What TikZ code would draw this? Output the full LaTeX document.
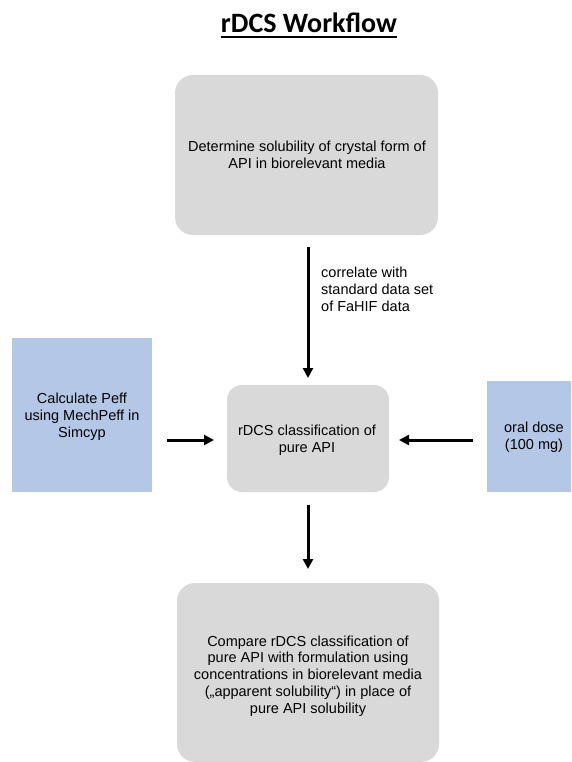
\documentclass[tikz,border=0pt]{standalone}
\usepackage{fontspec}
\setmainfont{Liberation Sans}
\newfontfamily\titlefont{Carlito}
\usetikzlibrary{arrows.meta}
\definecolor{boxgray}{HTML}{D9D9D9}
\definecolor{boxblue}{HTML}{B4C7E7}
\tikzset{
  graybox/.style={fill=boxgray, draw=none, rounded corners=18pt},
  bluebox/.style={fill=boxblue, draw=none},
  txt/.style={align=center, font=\fontsize{14.5}{16.8}\selectfont, inner sep=0pt},
  flow/.style={line width=3pt, -{Triangle[length=10pt,width=10pt]}},
}
\begin{document}
\begin{tikzpicture}[x=1pt,y=-1pt]
\useasboundingbox (0,0) rectangle (571,762);
\clip (0,0) rectangle (571,762);
% title
\node[inner sep=0pt, font=\titlefont\bfseries\fontsize{28}{30}\selectfont, anchor=base] (title) at (309,33) {rDCS Workflow};
\draw[line width=2pt] (title.base west) ++(0,4) coordinate (ul1) -- (title.base east |- ul1);
% boxes
\path[graybox] (175,75) rectangle (438,235);
\node[txt] (top) at (307,155) {Determine solubility of crystal form of\\API in biorelevant media};
\coordinate (topb) at (308,247);
\path[graybox, rounded corners=15pt] (227,385) rectangle (389,492);
\node[txt] (mid) at (307,440) {rDCS classification of\\pure API};
\coordinate (midt) at (308,378);
\coordinate (midl) at (214,440);
\coordinate (midr) at (399,440);
\coordinate (midb) at (308,505);
\path[bluebox] (12,338) rectangle (152,492);
\node[txt] (left) at (82,417) {Calculate Peff\\using MechPeff in\\Simcyp};
\coordinate (leftr) at (167,440);
\path[bluebox] (487,381) rectangle (580,492);
\node[txt] (right) at (534,437) {oral dose\\(100 mg)};
\coordinate (rightl) at (473,440);
\path[graybox] (177,583) rectangle (439,762);
\node[txt] (bot) at (308,676) {Compare rDCS classification of\\pure API with formulation using\\concentrations in biorelevant media\\(„apparent solubility“) in place of\\pure API solubility};
\coordinate (bott) at (308,569);
% label
\node[txt, align=left, anchor=north west] (lab) at (321,267) {correlate with\\standard data set\\of FaHIF data};
% arrows
\draw[flow] (topb) -- (midt);
\draw[flow] (leftr) -- (midl);
\draw[flow] (rightl) -- (midr);
\draw[flow] (midb) -- (bott);
\end{tikzpicture}
\end{document}
